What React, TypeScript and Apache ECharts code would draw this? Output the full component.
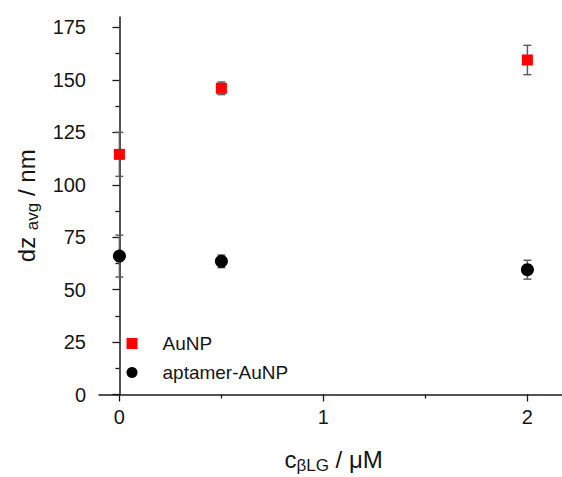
import React, { useEffect, useRef } from "react";
import * as echarts from "echarts";

const concentrations = [0, 0.5, 2];
const aunpMean = [114.5, 146, 159.5];
const aunpErr = [10.5, 3, 7];
const aptamerMean = [66, 63.5, 59.5];
const aptamerErr = [10, 3, 4.5];
const xTicks = [0, 1, 2];
const xMinorTicks = [0.5, 1.5];
const yTicks = [0, 25, 50, 75, 100, 125, 150, 175];
const yMinorTicks = [12.5, 37.5, 62.5, 87.5, 112.5, 137.5, 162.5];
const seriesNames = ["AuNP", "aptamer-AuNP"];

const FONT = "Liberation Sans, Arial, sans-serif";
const TXT = "#151515";

export default function App() {
  const ref = useRef<HTMLDivElement>(null);
  useEffect(() => {
    if (!ref.current) return;
    const chart = echarts.init(ref.current, undefined, { renderer: "svg" });
    const errRender = (params: any, api: any) => {
      const x = api.value(0);
      const y = api.value(1);
      const e = api.value(2);
      const hi = api.coord([x, y + e]);
      const lo = api.coord([x, y - e]);
      const cap = 4;
      const style = { stroke: "#5f5f5f", lineWidth: 1.5 };
      return {
        type: "group",
        children: [
          { type: "line", shape: { x1: hi[0], y1: hi[1], x2: lo[0], y2: lo[1] }, style },
          { type: "line", shape: { x1: hi[0] - cap, y1: hi[1], x2: hi[0] + cap, y2: hi[1] }, style },
          { type: "line", shape: { x1: lo[0] - cap, y1: lo[1], x2: lo[0] + cap, y2: lo[1] }, style },
        ],
      };
    };
    const axisLine = { show: true, lineStyle: { color: "#1a1a1a", width: 1.5 } };
    const xBase = { type: "value", min: -0.1, max: 2.2, position: "bottom", splitLine: { show: false } };
    const yBase = { type: "value", min: 0, max: 180, position: "left", splitLine: { show: false } };
    chart.setOption({
      animation: false,
      backgroundColor: "#ffffff",
      grid: { left: 99, top: 17, width: 469.2, height: 377.5, containLabel: false, outerBoundsMode: "none" },
      xAxis: [
        {
          ...xBase,
          axisLine,
          axisTick: { show: true, customValues: xTicks, length: 7, lineStyle: { color: "#1a1a1a", width: 1.3 } },
          axisLabel: { customValues: xTicks, color: TXT, fontSize: 20, fontFamily: FONT, margin: 12 },
          name: "{m|c}{s|βLG}{m| / μM}",
          nameLocation: "middle",
          nameGap: 50,
          nameTextStyle: {
            fontFamily: FONT,
            color: TXT,
            rich: {
              m: { fontSize: 24, fontFamily: FONT, color: TXT },
              s: { fontSize: 17, fontFamily: FONT, color: TXT, padding: [12, 0, 0, 0] },
            },
          },
        },
        {
          ...xBase,
          axisLine: { show: false },
          axisTick: { show: true, customValues: xMinorTicks, length: 4, lineStyle: { color: "#1a1a1a", width: 1.3 } },
          axisLabel: { show: false },
        },
      ],
      yAxis: [
        {
          ...yBase,
          axisLine,
          axisTick: { show: true, customValues: yTicks, length: 7, lineStyle: { color: "#1a1a1a", width: 1.3 } },
          axisLabel: { customValues: yTicks, color: TXT, fontSize: 20, fontFamily: FONT, margin: 13 },
          name: "{m|dz }{s|avg}{m| / nm}",
          nameLocation: "middle",
          nameRotate: 90,
          nameGap: 58,
          nameTextStyle: {
            fontFamily: FONT,
            color: TXT,
            rich: {
              m: { fontSize: 24, fontFamily: FONT, color: TXT },
              s: { fontSize: 17, fontFamily: FONT, color: TXT, padding: [12, 0, 0, 0] },
            },
          },
        },
        {
          ...yBase,
          axisLine: { show: false },
          axisTick: { show: true, customValues: yMinorTicks, length: 4, lineStyle: { color: "#1a1a1a", width: 1.3 } },
          axisLabel: { show: false },
        },
      ],
      legend: {
        orient: "vertical",
        left: 121.5,
        top: 328.5,
        itemWidth: 11,
        itemHeight: 11,
        itemGap: 9,
        data: [
          { name: seriesNames[0], icon: "rect" },
          { name: seriesNames[1], icon: "circle" },
        ],
        textStyle: { fontSize: 19, fontFamily: FONT, color: TXT, lineHeight: 20, padding: [0, 0, 0, 20] },
      },
      series: [
        {
          type: "custom",
          name: seriesNames[0] + " error",
          renderItem: errRender,
          clip: false,
          data: concentrations.map((c, i) => [c, aunpMean[i], aunpErr[i]]),
          z: 1,
        },
        {
          type: "custom",
          name: seriesNames[1] + " error",
          renderItem: errRender,
          clip: false,
          data: concentrations.map((c, i) => [c, aptamerMean[i], aptamerErr[i]]),
          z: 1,
        },
        {
          type: "scatter",
          name: seriesNames[0],
          symbol: "rect",
          symbolSize: 11,
          itemStyle: { color: "#ff0000", opacity: 1 },
          data: concentrations.map((c, i) => [c, aunpMean[i]]),
          z: 3,
        },
        {
          type: "scatter",
          name: seriesNames[1],
          symbol: "circle",
          symbolSize: 13,
          itemStyle: { color: "#000000", opacity: 1 },
          data: concentrations.map((c, i) => [c, aptamerMean[i]]),
          z: 3,
        },
      ],
    });
    return () => chart.dispose();
  }, []);
  return (
    <div
      ref={ref}
      style={{ position: "fixed", left: 0, top: 0, width: 562, height: 477, background: "#fff" }}
    />
  );
}
